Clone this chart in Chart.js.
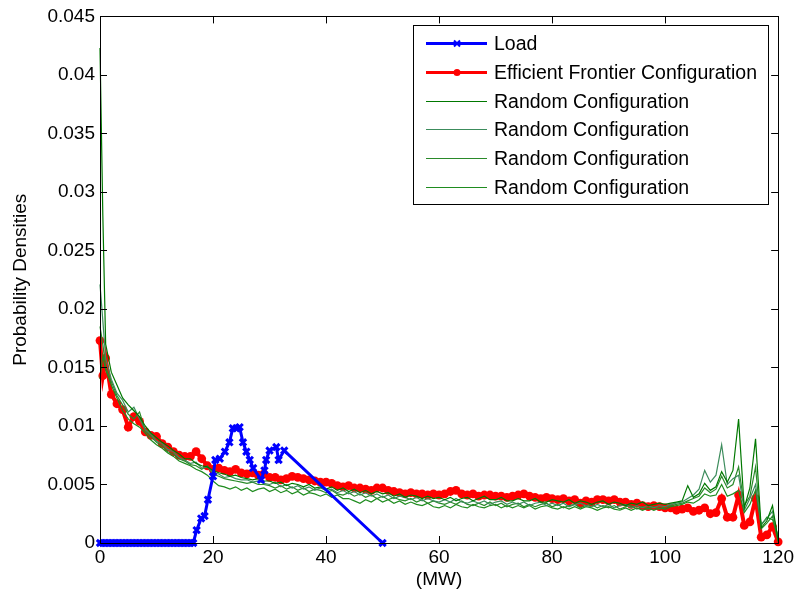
<!DOCTYPE html>
<html>
<head>
<meta charset="utf-8">
<script src="https://cdn.jsdelivr.net/npm/chart.js@4.4.0/dist/chart.umd.min.js"></script>
<style>
  html, body { margin: 0; padding: 0; background: #fff; }
  canvas { display: block; }
</style>
</head>
<body>
<canvas id="densityChart" width="797" height="600"></canvas>
<script>
// x grid (MW) shared by the frontier and random configuration curves
var gridX = [0, 0.5, 1, 2, 3, 4, 5, 6, 7, 8, 9, 10, 11, 12, 13, 14, 15, 16, 17, 18, 19,
    20, 21, 22, 23, 24, 25, 26, 27, 28, 29, 30, 31, 32, 33, 34, 35, 36, 37, 38, 39,
    40, 41, 42, 43, 44, 45, 46, 47, 48, 49, 50, 51, 52, 53, 54, 55, 56, 57, 58, 59,
    60, 61, 62, 63, 64, 65, 66, 67, 68, 69, 70, 71, 72, 73, 74, 75, 76, 77, 78, 79,
    80, 81, 82, 83, 84, 85, 86, 87, 88, 89, 90, 91, 92, 93, 94, 95, 96, 97, 98, 99,
    100, 101, 102, 103, 104, 105, 106, 107, 108, 109, 110, 111, 112, 113, 114, 115, 116, 117, 118, 119, 120];

var efficientFrontier = [0.0173, 0.0143, 0.0158, 0.0127, 0.0119, 0.0114, 0.0099, 0.0108, 0.0104, 0.0095, 0.0092,
    0.0091, 0.0085, 0.0082, 0.0078, 0.0075, 0.0074, 0.0074, 0.0078, 0.0072, 0.0066,
    0.0063, 0.0064, 0.0062, 0.0061, 0.0063, 0.0060, 0.0059, 0.0060, 0.0058, 0.0059,
    0.0056, 0.0056, 0.0054, 0.0055, 0.0057, 0.0056, 0.0055, 0.0054, 0.0053, 0.0052,
    0.0052, 0.0051, 0.0049, 0.0048, 0.0049, 0.0047, 0.0047, 0.0046, 0.0045, 0.0047,
    0.0047, 0.0045, 0.0044, 0.0043, 0.0042, 0.0043, 0.0042, 0.0042, 0.0041, 0.0042,
    0.0041, 0.0042, 0.0044, 0.0045, 0.0042, 0.0041, 0.0042, 0.0040, 0.0041, 0.0041,
    0.0040, 0.0040, 0.0039, 0.0040, 0.0041, 0.0042, 0.0040, 0.0039, 0.0038, 0.0039,
    0.0038, 0.0037, 0.0038, 0.0036, 0.0037, 0.0034, 0.0036, 0.0035, 0.0037, 0.0037,
    0.0036, 0.0037, 0.0035, 0.0035, 0.0033, 0.0034, 0.0032, 0.0031, 0.0032, 0.0031,
    0.0030, 0.0030, 0.0028, 0.0029, 0.0030, 0.0027, 0.0028, 0.0030, 0.0025, 0.0026,
    0.0038, 0.0022, 0.0022, 0.0041, 0.0015, 0.0018, 0.0038, 0.0005, 0.0007, 0.0014, 0.0001];

var random1 = [0.0423, 0.0280, 0.0170, 0.0146, 0.0135, 0.0124, 0.0118, 0.0113, 0.0108, 0.0100, 0.0094,
    0.0090, 0.0086, 0.0083, 0.0079, 0.0076, 0.0072, 0.0072, 0.0068, 0.0066, 0.0065,
    0.0062, 0.0060, 0.0059, 0.0057, 0.0058, 0.0056, 0.0055, 0.0054, 0.0055, 0.0053,
    0.0053, 0.0051, 0.0052, 0.0049, 0.0051, 0.0050, 0.0048, 0.0050, 0.0047, 0.0048,
    0.0046, 0.0048, 0.0045, 0.0047, 0.0044, 0.0046, 0.0043, 0.0045, 0.0042, 0.0044,
    0.0042, 0.0043, 0.0040, 0.0042, 0.0039, 0.0041, 0.0040, 0.0038, 0.0040, 0.0038,
    0.0039, 0.0037, 0.0039, 0.0036, 0.0038, 0.0039, 0.0036, 0.0038, 0.0040, 0.0037,
    0.0037, 0.0039, 0.0036, 0.0036, 0.0038, 0.0036, 0.0036, 0.0038, 0.0035, 0.0035,
    0.0037, 0.0036, 0.0035, 0.0037, 0.0034, 0.0036, 0.0035, 0.0033, 0.0035, 0.0036,
    0.0033, 0.0035, 0.0034, 0.0032, 0.0034, 0.0033, 0.0035, 0.0032, 0.0033, 0.0034,
    0.0033, 0.0034, 0.0035, 0.0036, 0.0049, 0.0039, 0.0042, 0.0051, 0.0045, 0.0048,
    0.0061, 0.0052, 0.0062, 0.0106, 0.0030, 0.0047, 0.0089, 0.0013, 0.0019, 0.0032, 0.0002];

var random2 = [0.0221, 0.0190, 0.0158, 0.0140, 0.0128, 0.0122, 0.0112, 0.0116, 0.0106, 0.0097, 0.0093,
    0.0087, 0.0085, 0.0080, 0.0078, 0.0073, 0.0071, 0.0068, 0.0069, 0.0064, 0.0065,
    0.0060, 0.0059, 0.0056, 0.0057, 0.0055, 0.0054, 0.0054, 0.0052, 0.0053, 0.0051,
    0.0050, 0.0052, 0.0048, 0.0050, 0.0047, 0.0049, 0.0046, 0.0048, 0.0045, 0.0047,
    0.0045, 0.0046, 0.0043, 0.0045, 0.0042, 0.0044, 0.0041, 0.0043, 0.0040, 0.0042,
    0.0039, 0.0041, 0.0038, 0.0040, 0.0039, 0.0037, 0.0039, 0.0036, 0.0038, 0.0036,
    0.0035, 0.0037, 0.0035, 0.0038, 0.0035, 0.0034, 0.0036, 0.0034, 0.0036, 0.0033,
    0.0035, 0.0036, 0.0033, 0.0035, 0.0033, 0.0035, 0.0032, 0.0034, 0.0035, 0.0032,
    0.0034, 0.0032, 0.0034, 0.0031, 0.0033, 0.0034, 0.0032, 0.0031, 0.0033, 0.0031,
    0.0033, 0.0030, 0.0032, 0.0033, 0.0030, 0.0032, 0.0030, 0.0032, 0.0030, 0.0032,
    0.0031, 0.0033, 0.0034, 0.0035, 0.0038, 0.0041, 0.0046, 0.0062, 0.0052, 0.0058,
    0.0084, 0.0050, 0.0055, 0.0058, 0.0028, 0.0038, 0.0050, 0.0016, 0.0021, 0.0027, 0.0004];

var random3 = [0.0185, 0.0170, 0.0150, 0.0138, 0.0126, 0.0118, 0.0110, 0.0106, 0.0112, 0.0096, 0.0091,
    0.0086, 0.0083, 0.0078, 0.0076, 0.0072, 0.0070, 0.0067, 0.0066, 0.0063, 0.0066,
    0.0059, 0.0057, 0.0055, 0.0054, 0.0053, 0.0052, 0.0051, 0.0052, 0.0050, 0.0050,
    0.0049, 0.0047, 0.0049, 0.0046, 0.0048, 0.0045, 0.0047, 0.0044, 0.0046, 0.0045,
    0.0043, 0.0045, 0.0042, 0.0041, 0.0043, 0.0040, 0.0042, 0.0039, 0.0041, 0.0038,
    0.0040, 0.0037, 0.0039, 0.0037, 0.0036, 0.0038, 0.0035, 0.0037, 0.0034, 0.0036,
    0.0034, 0.0033, 0.0035, 0.0033, 0.0036, 0.0033, 0.0032, 0.0034, 0.0032, 0.0035,
    0.0032, 0.0034, 0.0031, 0.0033, 0.0034, 0.0031, 0.0033, 0.0031, 0.0033, 0.0034,
    0.0031, 0.0033, 0.0030, 0.0032, 0.0033, 0.0030, 0.0032, 0.0033, 0.0030, 0.0032,
    0.0030, 0.0032, 0.0029, 0.0031, 0.0032, 0.0029, 0.0031, 0.0029, 0.0031, 0.0029,
    0.0031, 0.0032, 0.0033, 0.0034, 0.0036, 0.0038, 0.0040, 0.0047, 0.0043, 0.0046,
    0.0057, 0.0047, 0.0050, 0.0065, 0.0032, 0.0040, 0.0065, 0.0012, 0.0017, 0.0023, 0.0001];

var random4 = [0.0140, 0.0160, 0.0148, 0.0135, 0.0124, 0.0113, 0.0106, 0.0102, 0.0099, 0.0094, 0.0088,
    0.0084, 0.0081, 0.0077, 0.0074, 0.0070, 0.0068, 0.0066, 0.0063, 0.0061, 0.0058,
    0.0053, 0.0049, 0.0048, 0.0046, 0.0048, 0.0045, 0.0047, 0.0044, 0.0046, 0.0047,
    0.0044, 0.0046, 0.0043, 0.0045, 0.0042, 0.0044, 0.0041, 0.0043, 0.0042, 0.0040,
    0.0042, 0.0039, 0.0041, 0.0038, 0.0038, 0.0036, 0.0034, 0.0037, 0.0035, 0.0038,
    0.0035, 0.0037, 0.0034, 0.0036, 0.0033, 0.0035, 0.0033, 0.0032, 0.0034, 0.0031,
    0.0030, 0.0032, 0.0030, 0.0033, 0.0031, 0.0030, 0.0033, 0.0031, 0.0030, 0.0032,
    0.0033, 0.0030, 0.0032, 0.0030, 0.0032, 0.0030, 0.0032, 0.0029, 0.0031, 0.0032,
    0.0030, 0.0029, 0.0031, 0.0029, 0.0031, 0.0029, 0.0031, 0.0030, 0.0028, 0.0030,
    0.0031, 0.0029, 0.0028, 0.0030, 0.0028, 0.0030, 0.0028, 0.0030, 0.0028, 0.0030,
    0.0029, 0.0031, 0.0032, 0.0033, 0.0035, 0.0034, 0.0037, 0.0042, 0.0040, 0.0041,
    0.0050, 0.0040, 0.0042, 0.0045, 0.0026, 0.0033, 0.0045, 0.0015, 0.0022, 0.0020, 0.0006];

// load density has its own x positions
var loadX = [0, 0.5, 1, 1.5, 2, 2.5, 3, 3.5, 4, 4.5, 5, 5.5, 6, 6.5, 7, 7.5, 8, 8.5, 9, 9.5,
    10, 10.5, 11, 11.5, 12, 12.5, 13, 13.5, 14, 14.5, 15, 15.5, 16, 16.5,
    17.1, 17.9, 18.5, 19.1, 20.0, 20.4, 21.2, 22.1, 22.9, 23.5, 24.1, 24.7, 25.3, 25.9,
    26.5, 27.1, 28.5, 29.1, 29.4, 30.0, 31.2, 31.6, 32.6, 50];
var loadY = [0, 0, 0, 0, 0, 0, 0, 0, 0, 0, 0, 0, 0, 0, 0, 0, 0, 0, 0, 0,
    0, 0, 0, 0, 0, 0, 0, 0, 0, 0, 0, 0, 0, 0,
    0.0011, 0.0021, 0.0023, 0.0037, 0.0057, 0.0071, 0.0072, 0.0078, 0.0086, 0.0098, 0.0098, 0.0099, 0.0086, 0.0078,
    0.0071, 0.0064, 0.0054, 0.0062, 0.0071, 0.0079, 0.0082, 0.0071, 0.0079, 0];

var xTicks = [0, 20, 40, 60, 80, 100, 120];
var yTicks = [0, 0.005, 0.01, 0.015, 0.02, 0.025, 0.03, 0.035, 0.04, 0.045];

var FONT = 'Liberation Sans, Arial, sans-serif';

function toPoints(xs, ys) {
    return xs.map(function (x, i) { return { x: x, y: ys[i] }; });
}

// MATLAB style box with inward ticks on all four sides
var framePlugin = {
    id: 'frame',
    afterDatasetsDraw: function (chart) {
        var a = chart.chartArea, ctx = chart.ctx, len = 7;
        var sx = chart.scales.x, sy = chart.scales.y;
        ctx.save();
        ctx.strokeStyle = '#000';
        ctx.lineWidth = 1;
        ctx.beginPath();
        xTicks.forEach(function (t) {
            var px = Math.round(sx.getPixelForValue(t)) + 0.5;
            ctx.moveTo(px, a.bottom); ctx.lineTo(px, a.bottom - len);
            ctx.moveTo(px, a.top); ctx.lineTo(px, a.top + len);
        });
        yTicks.forEach(function (t) {
            var py = Math.round(sy.getPixelForValue(t)) + 0.5;
            ctx.moveTo(a.left, py); ctx.lineTo(a.left + len, py);
            ctx.moveTo(a.right, py); ctx.lineTo(a.right - len, py);
        });
        ctx.stroke();
        ctx.strokeRect(Math.round(a.left) + 0.5, Math.round(a.top) + 0.5,
            Math.round(a.width), Math.round(a.height));
        ctx.restore();
    }
};

// legend drawn like MATLAB: line sample with the marker in its middle
var legendPlugin = {
    id: 'boxLegend',
    afterDraw: function (chart) {
        var ctx = chart.ctx;
        var box = { x: 413, y: 25, w: 355, h: 179 };
        var rowTop = 43, rowGap = 28.8;
        ctx.save();
        ctx.fillStyle = '#fff';
        ctx.fillRect(box.x, box.y, box.w, box.h);
        ctx.strokeStyle = '#000';
        ctx.lineWidth = 1;
        ctx.strokeRect(box.x + 0.5, box.y + 0.5, box.w, box.h);
        ctx.font = '19.5px ' + FONT;
        ctx.textBaseline = 'middle';
        chart.data.datasets.forEach(function (ds, i) {
            var y = Math.round(rowTop + i * rowGap) + 0.5;
            ctx.strokeStyle = ds.borderColor;
            ctx.lineWidth = ds.pointRadius > 0 ? 3 : 1;
            ctx.beginPath();
            ctx.moveTo(426, y);
            ctx.lineTo(487, y);
            ctx.stroke();
            if (ds.pointStyle === 'circle') {
                ctx.fillStyle = ds.borderColor;
                ctx.beginPath();
                ctx.arc(457, y, 3.5, 0, Math.PI * 2);
                ctx.fill();
            } else if (ds.pointStyle === 'crossRot') {
                ctx.lineWidth = 2;
                ctx.beginPath();
                ctx.moveTo(454, y - 3); ctx.lineTo(460, y + 3);
                ctx.moveTo(454, y + 3); ctx.lineTo(460, y - 3);
                ctx.stroke();
            }
            ctx.fillStyle = '#000';
            ctx.fillText(ds.label, 494, y + 1);
        });
        ctx.restore();
    }
};

function randomSet(label, values, color) {
    return {
        label: label,
        data: toPoints(gridX, values),
        borderColor: color,
        borderWidth: 1.2,
        pointRadius: 0,
        pointStyle: false,
        tension: 0,
        order: 1,
        clip: false
    };
}

new Chart(document.getElementById('densityChart'), {
    type: 'line',
    data: {
        datasets: [{
            label: 'Load',
            data: toPoints(loadX, loadY),
            borderColor: '#0000ff',
            backgroundColor: '#0000ff',
            borderWidth: 3,
            pointStyle: 'crossRot',
            pointRadius: 4.5,
            pointBorderWidth: 3,
            pointBorderColor: '#0000ff',
            order: 0,
            clip: false
        }, {
            label: 'Efficient Frontier Configuration',
            data: toPoints(gridX, efficientFrontier),
            borderColor: '#ff0000',
            backgroundColor: '#ff0000',
            borderWidth: 4,
            pointStyle: 'circle',
            pointRadius: 4.4,
            pointBorderWidth: 0,
            pointBackgroundColor: '#ff0000',
            order: 2,
            clip: false
        },
            randomSet('Random Configuration', random1, '#007800'),
            randomSet('Random Configuration', random2, '#3c8c5c'),
            randomSet('Random Configuration', random3, '#2a8a2a'),
            randomSet('Random Configuration', random4, '#1f8c1f')
        ]
    },
    options: {
        responsive: false,
        animation: false,
        layout: { padding: { left: 0, right: 16, top: 15, bottom: 0 } },
        plugins: {
            legend: { display: false },
            tooltip: { enabled: false }
        },
        scales: {
            x: {
                type: 'linear',
                min: 0,
                max: 120,
                grid: { display: false, drawTicks: false },
                border: { display: false },
                afterBuildTicks: function (s) { s.ticks = xTicks.map(function (v) { return { value: v }; }); },
                afterFit: function (s) { s.height = 57; },
                ticks: {
                    padding: 3,
                    color: '#000',
                    font: { family: FONT, size: 19 },
                    maxRotation: 0,
                    callback: function (v) { return String(v); }
                },
                title: {
                    display: true,
                    text: '(MW)',
                    color: '#000',
                    font: { family: FONT, size: 19 },
                    padding: { top: 0, bottom: 9 }
                }
            },
            y: {
                type: 'linear',
                min: 0,
                max: 0.045,
                grid: { display: false, drawTicks: false },
                border: { display: false },
                afterBuildTicks: function (s) { s.ticks = yTicks.map(function (v) { return { value: v }; }); },
                afterFit: function (s) { s.width = 100; },
                ticks: {
                    padding: 5,
                    color: '#000',
                    font: { family: FONT, size: 19 },
                    callback: function (v) { return String(+v.toFixed(3)); }
                },
                title: {
                    display: true,
                    text: 'Probability Densities',
                    color: '#000',
                    font: { family: FONT, size: 19 },
                    padding: { top: 9, bottom: 0 }
                }
            }
        }
    },
    plugins: [framePlugin, legendPlugin]
});
</script>
</body>
</html>
